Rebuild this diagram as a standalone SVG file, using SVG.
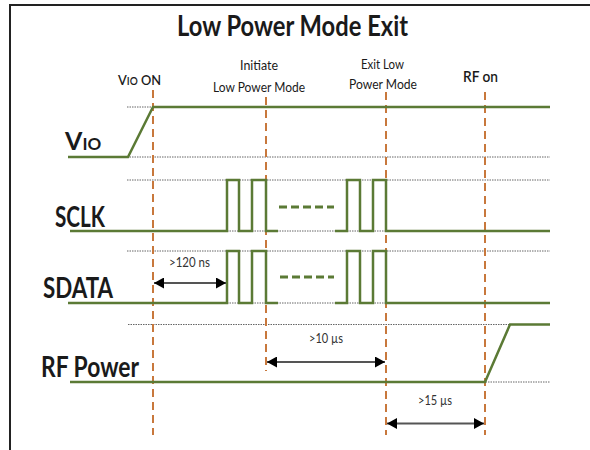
<svg xmlns="http://www.w3.org/2000/svg" width="590" height="450" viewBox="0 0 590 450">
<defs>
<style>
.ref{stroke:#666;stroke-width:1;stroke-dasharray:1.5 1;fill:none}
.sig{stroke:#5b7a35;stroke-width:2.5;fill:none;stroke-linejoin:miter}
.sigd{stroke:#5b7a35;stroke-width:3;fill:none;stroke-dasharray:8 4}
.mark{stroke:#c8783c;stroke-width:2;stroke-dasharray:8 5;fill:none}
.arr{stroke:#555;stroke-width:2;fill:none;marker-start:url(#ah);marker-end:url(#ah)}
.t{font-family:Lato,"Open Sans","Liberation Sans",sans-serif;fill:#1a1a1a}
.b{font-weight:bold}
.s{font-weight:600}
.n{fill:#333}
</style>
<marker id="ah" viewBox="0 0 10 10" refX="10" refY="5" markerWidth="10" markerHeight="11" orient="auto-start-reverse" markerUnits="userSpaceOnUse" preserveAspectRatio="none">
<path d="M0,0 L10,5 L0,10 z" fill="#000"/>
</marker>
</defs>
<rect width="590" height="450" fill="#fff"/>
<g id="frame" stroke="#222" stroke-width="2" fill="none">
<path d="M10,450 V5 H590"/>
</g>
<text id="title" class="t b" x="177" y="36" font-size="29" textLength="231" lengthAdjust="spacingAndGlyphs">Low Power Mode Exit</text>

<g id="reference-lines">
<path class="ref" d="M127,107 H550 M127,157 H550 M127,180 H550 M127,231 H550 M127,251 H550 M127,303 H550 M128,324.5 H550 M128,382 H550"/>
</g>

<g id="markers">
<path class="mark" d="M153,90 V435"/>
<path class="mark" d="M266,97 V371"/>
<path class="mark" d="M386,92 V435"/>
<path class="mark" d="M485,92 V435"/>
</g>

<g id="sig-vio">
<path class="sig" d="M68,157 H128 L153,107 H550"/>
<text class="t b" x="65" y="150" font-size="25">V<tspan font-size="17">IO</tspan></text>
</g>
<g id="sig-sclk">
<path class="sig" d="M70,231 H227 V180 H239 V231 H252 V180 H266 V231 H278"/>
<path class="sigd" d="M279,207 H334"/>
<path class="sig" d="M335,231 H347 V180 H360 V231 H373 V180 H386 V231 H550"/>
<text class="t b" x="55" y="227" font-size="29" textLength="50" lengthAdjust="spacingAndGlyphs">SCLK</text>
</g>
<g id="sig-sdata">
<path class="sig" d="M68,303 H227 V251 H239 V303 H252 V251 H266 V303 H278"/>
<path class="sigd" d="M280,277 H334"/>
<path class="sig" d="M335,303 H347 V251 H360 V303 H373 V251 H386 V303 H550"/>
<text class="t b" x="43" y="298" font-size="29" textLength="70" lengthAdjust="spacingAndGlyphs">SDATA</text>
</g>
<g id="sig-rf">
<path class="sig" d="M70,382 H485 L510,324.5 H550"/>
<text class="t b" x="41" y="377" font-size="29" textLength="98" lengthAdjust="spacingAndGlyphs">RF Power</text>
</g>

<g id="labels">
<text class="t s" x="118" y="85" font-size="14" textLength="43" lengthAdjust="spacingAndGlyphs">V<tspan font-size="11">IO</tspan> ON</text>
<text class="t" x="240" y="70" font-size="13.5" textLength="38" lengthAdjust="spacingAndGlyphs">Initiate</text>
<text class="t" x="213" y="92" font-size="13.5" textLength="92" lengthAdjust="spacingAndGlyphs">Low Power Mode</text>
<text class="t" x="361" y="69" font-size="13.5" textLength="43" lengthAdjust="spacingAndGlyphs">Exit Low</text>
<text class="t" x="349" y="89" font-size="13.5" textLength="68" lengthAdjust="spacingAndGlyphs">Power Mode</text>
<text class="t s" x="463" y="82" font-size="16" textLength="35" lengthAdjust="spacingAndGlyphs">RF on</text>
</g>

<g id="connectors">
<path class="arr" d="M154,283 H226"/>
<path class="arr" d="M267,362 H385"/>
<path class="arr" d="M387,423.5 H484"/>
</g>
<g id="connector-labels">
<text class="t n" x="169" y="267" font-size="14" textLength="41" lengthAdjust="spacingAndGlyphs">&gt;120 ns</text>
<text class="t n" x="309" y="343" font-size="13" textLength="34" lengthAdjust="spacingAndGlyphs">&gt;10 µs</text>
<text class="t n" x="418" y="405" font-size="13" textLength="34" lengthAdjust="spacingAndGlyphs">&gt;15 µs</text>
</g>
</svg>
